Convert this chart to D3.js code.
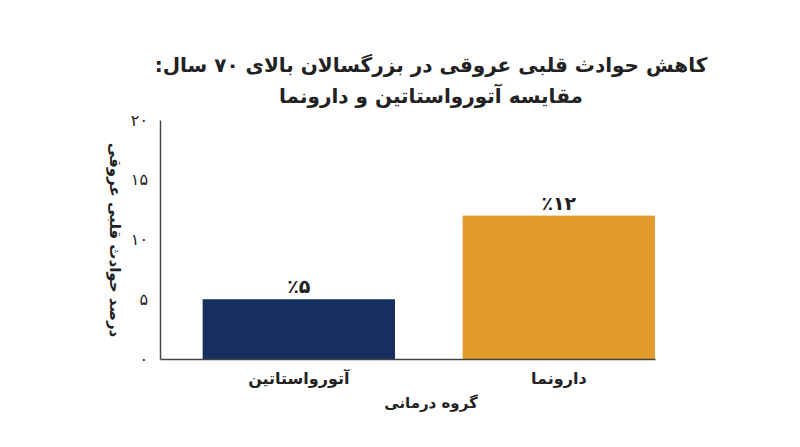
<!DOCTYPE html>
<html><head><meta charset="utf-8">
<script src="https://cdn.jsdelivr.net/npm/d3@7"></script>
<style>body{margin:0;background:#fff}text{font-family:"DejaVu Sans",sans-serif}</style>
</head><body><div id="chart"></div>
<script>
var categories = ["آتورواستاتین", "دارونما"];
var values = [5, 12];
var valueLabels = ["٪۵", "٪۱۲"];
var yTicks = [0, 5, 10, 15, 20];
var yTickLabels = ["۰", "۵", "۱۰", "۱۵", "۲۰"];
var colors = ["#152f60", "#e39b2e"];

var width = 800, height = 447;
var margin = { left: 160, top: 120, right: 145, bottom: 88 };

var svg = d3.select("#chart").append("svg")
    .attr("width", width).attr("height", height);

var x = d3.scaleBand().domain(categories)
    .range([margin.left, width - margin.right]).paddingInner(0.26).paddingOuter(0.082).align(1);
var y = d3.scaleLinear().domain([0, 20]).range([height - margin.bottom, margin.top]);

// bars
svg.selectAll(".bar").data(values).enter().append("rect")
    .attr("x", function (d, i) { return x(categories[i]); })
    .attr("y", function (d) { return y(d); })
    .attr("width", x.bandwidth())
    .attr("height", function (d) { return y(0) - y(d); })
    .style("fill", function (d, i) { return colors[i]; });

svg.selectAll(".vlab").data(values).enter().append("text")
    .attr("x", function (d, i) { return x(categories[i]) + x.bandwidth() / 2; })
    .attr("y", function (d) { return y(d) - 6; })
    .attr("text-anchor", "middle").attr("font-size", 19).attr("font-weight", "bold")
    .attr("fill", "#222")
    .text(function (d, i) { return valueLabels[i]; });

// axes
var yAxis = svg.append("g").attr("transform", "translate(" + margin.left + ",0)")
    .call(d3.axisLeft(y).tickValues(yTicks).tickSize(0).tickPadding(12)
        .tickFormat(function (d, i) { return yTickLabels[i]; }));
yAxis.select(".domain").attr("stroke", "#444").attr("stroke-width", 1.5);
yAxis.selectAll("text").attr("font-size", 16).attr("fill", "#222");

var xAxis = svg.append("g").attr("transform", "translate(0," + y(0) + ")")
    .call(d3.axisBottom(x).tickSize(0).tickPadding(14));
xAxis.select(".domain").attr("stroke", "#444").attr("stroke-width", 1.5);
xAxis.selectAll("text").attr("font-size", 16).attr("font-weight", "bold").attr("fill", "#222");

// titles
svg.append("text").attr("x", 431).attr("y", 72).attr("text-anchor", "middle")
    .attr("direction", "rtl")
    .attr("font-size", 20).attr("font-weight", "bold").attr("fill", "#222")
    .text("کاهش حوادث قلبی عروقی در بزرگسالان بالای ۷۰ سال:");
svg.append("text").attr("x", 431).attr("y", 103).attr("text-anchor", "middle")
    .attr("direction", "rtl")
    .attr("font-size", 20).attr("font-weight", "bold").attr("fill", "#222")
    .text("مقایسه آتورواستاتین و دارونما");
svg.append("text").attr("x", 431).attr("y", 408).attr("text-anchor", "middle")
    .attr("direction", "rtl")
    .attr("font-size", 15).attr("font-weight", "bold").attr("fill", "#222")
    .text("گروه درمانی");
svg.append("text").attr("transform", "translate(110,240) rotate(90)")
    .attr("text-anchor", "middle").attr("direction", "rtl")
    .attr("font-size", 15).attr("font-weight", "bold").attr("fill", "#222")
    .text("درصد حوادث قلبی عروقی");
</script></body></html>
